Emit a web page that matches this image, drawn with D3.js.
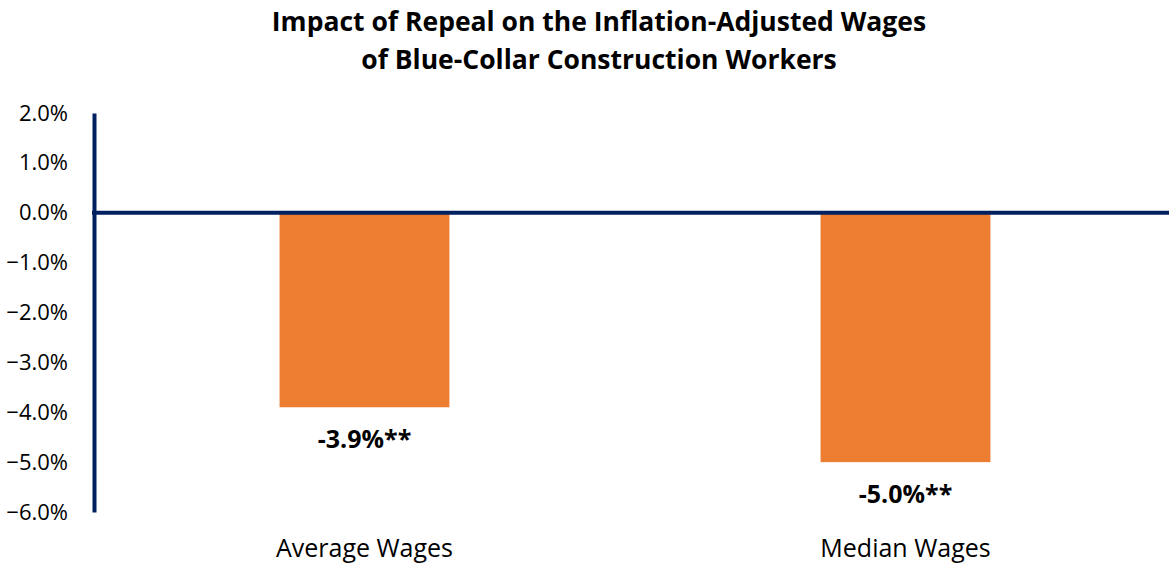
<!DOCTYPE html>
<html>
<head>
<meta charset="utf-8">
<script src="https://cdn.jsdelivr.net/npm/d3@7"></script>
<style>
  body { margin: 0; background: #fff; }
  text { font-family: "Open Sans", Lato, sans-serif; fill: #000; }
</style>
</head>
<body>
<div id="chart"></div>
<script>
// chart data
const categories = ["Average Wages", "Median Wages"];
const values = [-3.9, -5.0];
const valueLabels = ["-3.9%**", "-5.0%**"];
const yTicks = [2, 1, 0, -1, -2, -3, -4, -5, -6];
const titleLines = ["Impact of Repeal on the Inflation-Adjusted Wages", "of Blue-Collar Construction Workers"];

const W = 1169, H = 564;
const svg = d3.select("#chart").append("svg")
    .attr("width", W)
    .attr("height", H);

// scales
let x = d3.scaleBand()
    .domain(categories)
    .range([94, 1176])
    .paddingInner(0.686)
    .paddingOuter(0.343);
let y = d3.scaleLinear()
    .domain([-6, 2])
    .range([512, 113]);

// title
svg.append("g").selectAll("text")
    .data(titleLines)
    .enter().append("text")
    .attr("x", 599)
    .attr("y", (d, i) => 31 + i * 38)
    .attr("text-anchor", "middle")
    .style("font-size", "26.5px")
    .style("font-weight", "bold")
    .text(d => d);

// bars
svg.selectAll(".bar")
    .data(values)
    .enter().append("rect")
    .attr("class", "bar")
    .attr("x", (d, i) => x(categories[i]))
    .attr("width", x.bandwidth())
    .attr("y", y(0))
    .attr("height", d => y(d) - y(0))
    .attr("fill", "#ED7D31");

// value labels
svg.selectAll(".vlabel")
    .data(values)
    .enter().append("text")
    .attr("class", "vlabel")
    .attr("x", (d, i) => x(categories[i]) + x.bandwidth() / 2)
    .attr("y", d => y(d) + 41)
    .attr("text-anchor", "middle")
    .style("font-size", "25px")
    .style("font-weight", "bold")
    .text((d, i) => valueLabels[i]);

// y axis
let yAxis = d3.axisLeft(y)
    .tickValues(yTicks)
    .tickSize(0)
    .tickPadding(26)
    .tickFormat(d => d3.format(".1f")(d) + "%");
let gy = svg.append("g")
    .attr("transform", "translate(94,0)")
    .call(yAxis);
gy.select(".domain")
    .attr("stroke", "#002060")
    .attr("stroke-width", 4);
gy.selectAll("text")
    .style("font-size", "22px")
    .attr("fill", "#000");

// zero line
svg.append("line")
    .attr("x1", 92)
    .attr("x2", W)
    .attr("y1", y(0))
    .attr("y2", y(0))
    .attr("stroke", "#002060")
    .attr("stroke-width", 4);

// category labels
svg.selectAll(".clabel")
    .data(categories)
    .enter().append("text")
    .attr("class", "clabel")
    .attr("x", d => x(d) + x.bandwidth() / 2)
    .attr("y", 557)
    .attr("text-anchor", "middle")
    .style("font-size", "25px")
    .text(d => d);
</script>
</body>
</html>
